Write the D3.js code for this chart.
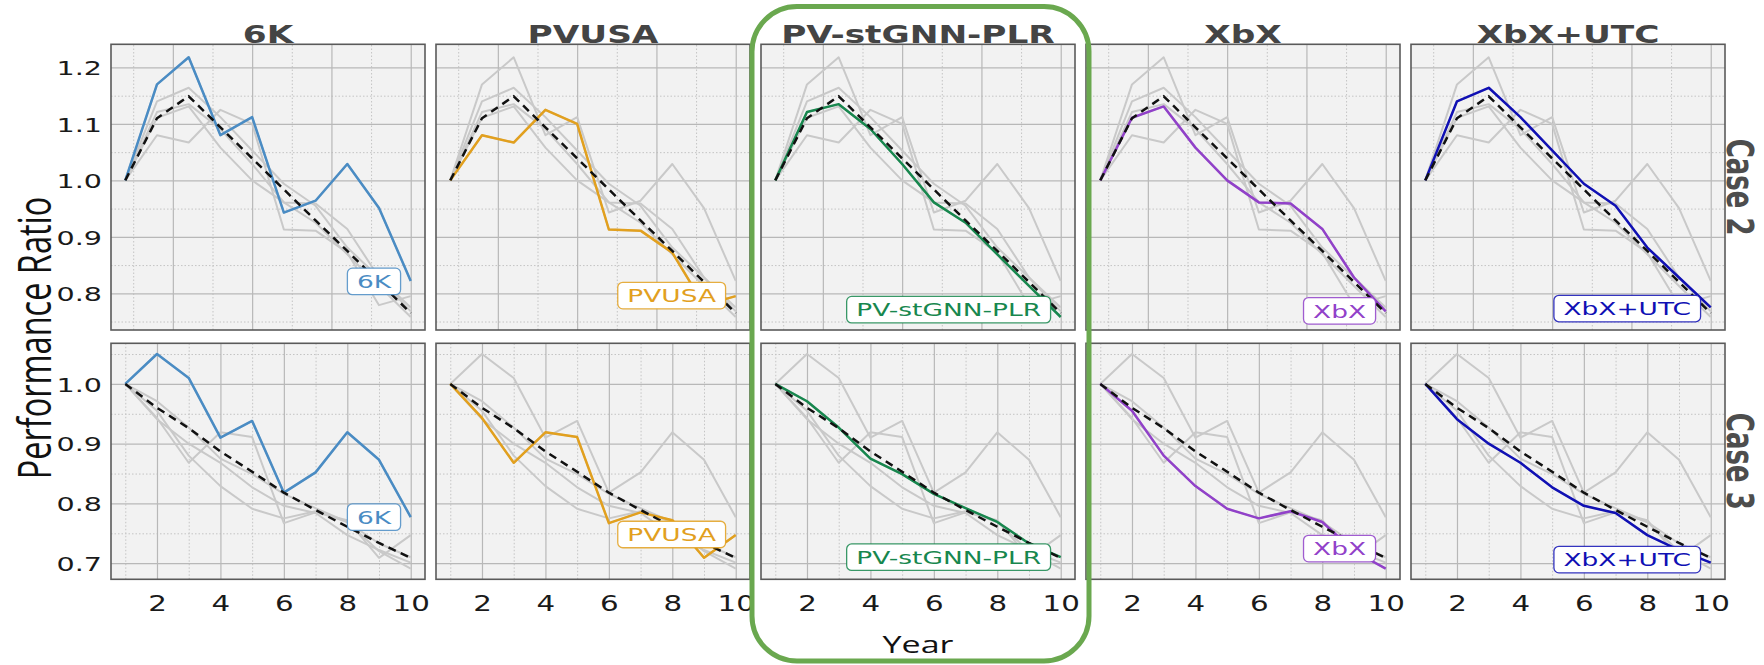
<!DOCTYPE html>
<html>
<head>
<meta charset="utf-8">
<script src="https://cdn.jsdelivr.net/npm/d3@7"></script>
<style>
  html, body { margin: 0; padding: 0; background: #ffffff; }
  svg { display: block; }
</style>
</head>
<body>
<svg id="chart" width="1764" height="665"></svg>
<script>
// ---- data -------------------------------------------------------------
const years = [1, 2, 3, 4, 5, 6, 7, 8, 9, 10];
const methods = ["6K", "PVUSA", "PV-stGNN-PLR", "XbX", "XbX+UTC"];
const caseNames = ["Case 2", "Case 3"];

// Case 2: performance ratio per year
const case2_6K       = [1.000, 1.170, 1.218, 1.080, 1.112, 0.943, 0.964, 1.029, 0.951, 0.822];
const case2_PVUSA    = [1.000, 1.080, 1.067, 1.125, 1.100, 0.913, 0.911, 0.872, 0.779, 0.795];
const case2_PVstGNN  = [1.000, 1.121, 1.135, 1.091, 1.029, 0.961, 0.925, 0.869, 0.813, 0.758];
const case2_XbX      = [1.000, 1.111, 1.131, 1.058, 1.000, 0.961, 0.959, 0.914, 0.828, 0.768];
const case2_XbXUTC   = [1.000, 1.140, 1.164, 1.112, 1.053, 0.994, 0.955, 0.881, 0.828, 0.775];
const truthCase2     = [1.000, 1.110, 1.149, 1.094, 1.039, 0.984, 0.929, 0.875, 0.820, 0.765];

// Case 3: performance ratio per year
const case3_6K       = [1.000, 1.050, 1.010, 0.910, 0.938, 0.818, 0.852, 0.919, 0.873, 0.777];
const case3_PVUSA    = [1.000, 0.943, 0.868, 0.919, 0.911, 0.767, 0.785, 0.772, 0.709, 0.747];
const case3_PVstGNN  = [1.000, 0.971, 0.927, 0.875, 0.849, 0.816, 0.792, 0.769, 0.733, 0.710];
const case3_XbX      = [1.000, 0.955, 0.880, 0.829, 0.791, 0.775, 0.787, 0.769, 0.720, 0.691];
const case3_XbXUTC   = [1.000, 0.941, 0.900, 0.868, 0.827, 0.796, 0.784, 0.747, 0.722, 0.701];
const truthCase3     = [1.000, 0.960, 0.926, 0.887, 0.853, 0.818, 0.789, 0.761, 0.734, 0.709];

// value at which each method's name tag is anchored
const tagCase2 = [0.821, 0.796, 0.771, 0.769, 0.773];
const tagCase3 = [0.777, 0.748, 0.710, 0.7245, 0.706];

// ticks
const yTicksCase2 = [0.8, 0.9, 1.0, 1.1, 1.2];
const yTicksCase3 = [0.7, 0.8, 0.9, 1.0];
const xTicksBottom = [2, 4, 6, 8, 10];
const xMinorBottom = [1, 3, 5, 7, 9];
const xTicksTop = [2.5, 5, 7.5, 10];
const xMinorTop = [1.25, 3.75, 6.25, 8.75];

const seriesCase2 = [case2_6K, case2_PVUSA, case2_PVstGNN, case2_XbX, case2_XbXUTC];
const seriesCase3 = [case3_6K, case3_PVUSA, case3_PVstGNN, case3_XbX, case3_XbXUTC];

// ---- style / layout ---------------------------------------------------
const colors = ["#4a8cc4", "#e2a01e", "#17874e", "#9141c9", "#1010b4"];
const sx = 1.43;                 // horizontal glyph stretch used for all text
const colLeft0 = 111, colPitch = 325, panelW = 314;
const rowBoxes = [{ top: 44.3, bottom: 330 }, { top: 343.3, bottom: 579.3 }];

const rows = [
  { series: seriesCase2, truth: truthCase2, tags: tagCase2, yTicks: yTicksCase2,
    xMajor: xTicksTop, xMinor: xMinorTop, showX: false },
  { series: seriesCase3, truth: truthCase3, tags: tagCase3, yTicks: yTicksCase3,
    xMajor: xTicksBottom, xMinor: xMinorBottom, showX: true }
];

const svg = d3.select("#chart");
const defs = svg.append("defs");

// matplotlib-style 5% margins
function padded(ext) {
  const m = (ext[1] - ext[0]) * 0.05;
  return [ext[0] - m, ext[1] + m];
}
const xDomain = padded(d3.extent(years));

function minorY(domain) {
  const out = [];
  for (let k = Math.ceil(domain[0] / 0.05); k <= Math.floor(domain[1] / 0.05); k++) {
    if (k % 2 !== 0) out.push(+(k * 0.05).toFixed(3));
  }
  return out;
}

function styleGrid(g, minor) {
  g.select(".domain").remove();
  g.selectAll(".tick line")
    .attr("stroke", minor ? "#c4c4c4" : "#b8b8b8")
    .attr("stroke-width", minor ? 1 : 1.2)
    .attr("stroke-dasharray", minor ? "1.5,2" : null);
}

rows.forEach((row, ri) => {
  const { top, bottom } = rowBoxes[ri];
  const h = bottom - top;
  const allVals = row.series.flat().concat(row.truth);
  const yDomain = padded(d3.extent(allVals));

  methods.forEach((name, ci) => {
    const left = colLeft0 + ci * colPitch;
    const x = d3.scaleLinear().domain(xDomain).range([0, panelW]);
    const y = d3.scaleLinear().domain(yDomain).range([h, 0]);

    const g = svg.append("g").attr("transform", `translate(${left},${top})`);
    const clipId = `clip-${ri}-${ci}`;
    defs.append("clipPath").attr("id", clipId)
      .append("rect").attr("width", panelW).attr("height", h);

    g.append("rect").attr("width", panelW).attr("height", h).attr("fill", "#f2f2f2");

    // grid: minor dotted, then major solid
    g.append("g").attr("transform", `translate(0,${h})`)
      .call(d3.axisBottom(x).tickValues(row.xMinor).tickSize(-h).tickFormat(""))
      .call(s => styleGrid(s, true));
    g.append("g")
      .call(d3.axisLeft(y).tickValues(minorY(yDomain)).tickSize(-panelW).tickFormat(""))
      .call(s => styleGrid(s, true));
    g.append("g").attr("transform", `translate(0,${h})`)
      .call(d3.axisBottom(x).tickValues(row.xMajor).tickSize(-h).tickFormat(""))
      .call(s => styleGrid(s, false));
    g.append("g")
      .call(d3.axisLeft(y).tickValues(row.yTicks).tickSize(-panelW).tickFormat(""))
      .call(s => styleGrid(s, false));

    const line = d3.line().x((d, i) => x(years[i])).y(d => y(d));
    const plot = g.append("g").attr("clip-path", `url(#${clipId})`);

    // all methods in light grey
    row.series.forEach(s => {
      plot.append("path").datum(s).attr("d", line)
        .attr("fill", "none").attr("stroke", "#c9c9c9")
        .attr("stroke-width", 2).attr("stroke-linejoin", "round");
    });
    // highlighted method
    plot.append("path").datum(row.series[ci]).attr("d", line)
      .attr("fill", "none").attr("stroke", colors[ci])
      .attr("stroke-width", 2.5).attr("stroke-linejoin", "round");
    // reference trajectory
    plot.append("path").datum(row.truth).attr("d", line)
      .attr("fill", "none").attr("stroke", "#111111")
      .attr("stroke-width", 2.5).attr("stroke-dasharray", "8,5.5");

    // frame
    g.append("rect").attr("width", panelW).attr("height", h)
      .attr("fill", "none").attr("stroke", "#5a5a5a").attr("stroke-width", 1.6);

    // name tag
    const tagG = g.append("g");
    const tagText = tagG.append("text")
      .attr("font-family", "DejaVu Sans").attr("font-size", 18.5)
      .attr("fill", colors[ci]).attr("text-anchor", "middle")
      .text(name);
    const tw = tagText.node().getComputedTextLength() * sx;
    const boxW = tw + 19, boxH = 26.5;
    const cy = y(row.tags[ci]);
    const right = x(9.68);
    tagG.insert("rect", "text")
      .attr("x", right - boxW).attr("y", cy - boxH / 2)
      .attr("width", boxW).attr("height", boxH).attr("rx", 5)
      .attr("fill", "#ffffff").attr("stroke", colors[ci])
      .attr("stroke-opacity", 0.85).attr("stroke-width", 1.3);
    tagText.attr("transform", `translate(${right - boxW / 2},${cy + 6.7}) scale(${sx},1)`);

    // tick labels
    if (ci === 0) {
      g.append("g")
        .call(d3.axisLeft(y).tickValues(row.yTicks).tickSize(0).tickFormat(d3.format(".1f")))
        .call(s => {
          s.select(".domain").remove();
          s.selectAll("text")
            .attr("font-family", "DejaVu Sans").attr("font-size", 20)
            .attr("fill", "#1a1a1a")
            .attr("x", -9 / sx).attr("dy", "0.36em")
            .attr("transform", `scale(${sx},1)`);
        });
    }
    if (row.showX) {
      g.append("g").attr("transform", `translate(0,${h})`)
        .call(d3.axisBottom(x).tickValues(row.xMajor).tickSize(0).tickFormat(d3.format("d")))
        .call(s => {
          s.select(".domain").remove();
          s.selectAll("text")
            .attr("font-family", "DejaVu Sans").attr("font-size", 20.5)
            .attr("fill", "#1a1a1a")
            .attr("y", 17.5).attr("dy", "0.71em")
            .attr("transform", `scale(${sx},1)`);
        });
    }

    // column titles
    if (ri === 0) {
      svg.append("text")
        .attr("transform", `translate(${left + panelW / 2},42.5) scale(${sx},1)`)
        .attr("text-anchor", "middle")
        .attr("font-family", "DejaVu Sans").attr("font-weight", "bold")
        .attr("font-size", 24).attr("fill", "#444444")
        .text(name);
    }
  });

  // row labels on the right
  const lastRight = colLeft0 + 4 * colPitch + panelW;
  svg.append("text")
    .attr("transform", `translate(${lastRight + 1.5},${(top + bottom) / 2}) scale(${sx},1) rotate(90)`)
    .attr("text-anchor", "middle")
    .attr("font-family", "DejaVu Sans").attr("font-weight", "bold")
    .attr("font-size", 26).attr("fill", "#4d4d4d")
    .text(caseNames[ri]);
});

// axis titles
svg.append("text")
  .attr("transform", `translate(51,338) scale(${sx},1) rotate(-90)`)
  .attr("text-anchor", "middle")
  .attr("font-family", "Open Sans").attr("font-size", 32.5).attr("fill", "#111111")
  .text("Performance Ratio");

svg.append("text")
  .attr("transform", `translate(${colLeft0 + 2 * colPitch + panelW / 2},653.3) scale(${sx},1)`)
  .attr("text-anchor", "middle")
  .attr("font-family", "Open Sans").attr("font-size", 23.8).attr("fill", "#111111")
  .text("Year");

// highlight frame around the proposed method's column
svg.append("rect")
  .attr("x", 752).attr("y", 6.5).attr("width", 337).attr("height", 654.5)
  .attr("rx", 45).attr("ry", 45)
  .attr("fill", "none").attr("stroke", "#6aa84f").attr("stroke-width", 5);
</script>
</body>
</html>
